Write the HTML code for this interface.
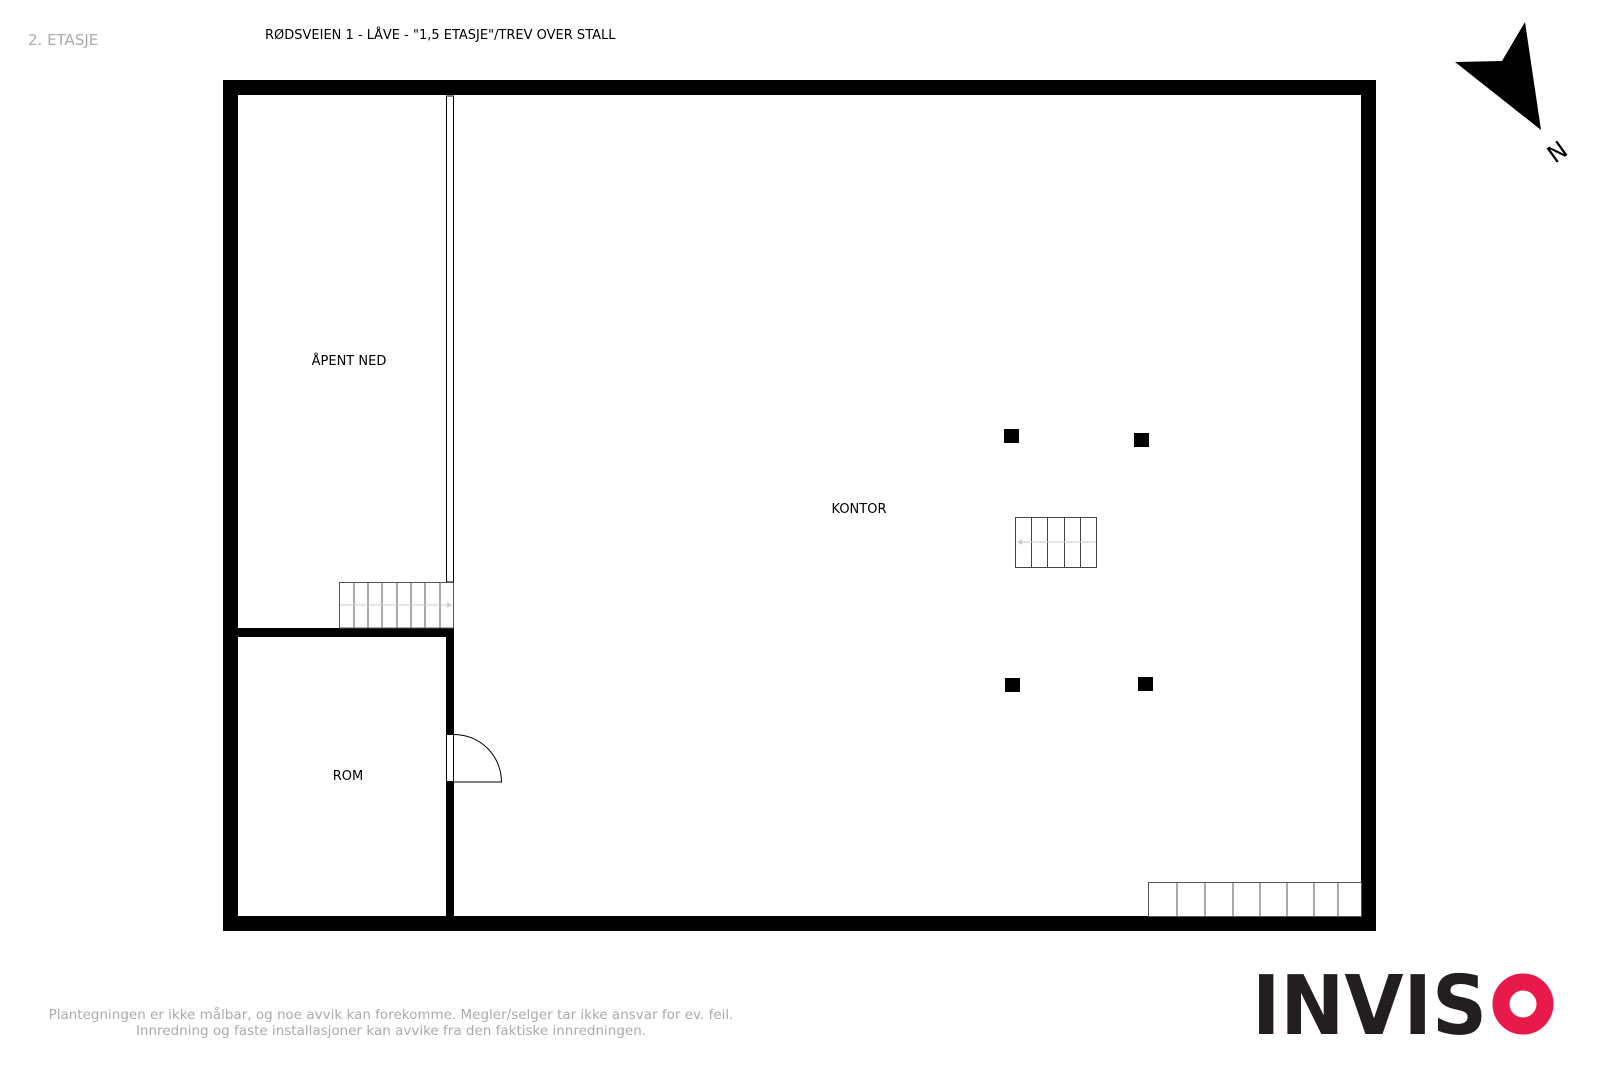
<!DOCTYPE html>
<html><head><meta charset="utf-8"><style>
html,body{margin:0;padding:0;background:#fff}
svg{display:block}
text{font-family:"DejaVu Sans","Liberation Sans",sans-serif}
</style></head><body>
<svg width="1600" height="1067" viewBox="0 0 1600 1067" xmlns="http://www.w3.org/2000/svg">
<rect width="1600" height="1067" fill="#fff"/>
<text x="28" y="45" font-size="15" fill="#aaa">2. ETASJE</text>
<text x="265" y="39" font-size="13" fill="#000">RØDSVEIEN 1 - LÅVE - "1,5 ETASJE"/TREV OVER STALL</text>
<rect x="230.5" y="87.5" width="1138" height="836" fill="none" stroke="#000" stroke-width="15"/>
<rect x="238" y="628" width="216" height="9" fill="#000"/>
<rect x="446" y="628" width="8" height="296" fill="#000"/>
<rect x="446.5" y="96" width="7" height="486" fill="#fff" stroke="#000" stroke-width="1"/>
<rect x="446" y="734" width="8" height="48" fill="#fff"/>
<rect x="446.5" y="734.5" width="7" height="47" fill="none" stroke="#000" stroke-width="1"/>
<path d="M454 734.5 A47.5 47.5 0 0 1 501.5 782 L454 782" fill="none" stroke="#000" stroke-width="1"/>
<g stroke="#555" stroke-width="1" fill="none">
<rect x="339.5" y="582.5" width="114" height="45.5"/>
<line x1="354" y1="582" x2="354" y2="628"/><line x1="368" y1="582" x2="368" y2="628"/>
<line x1="382" y1="582" x2="382" y2="628"/><line x1="397" y1="582" x2="397" y2="628"/>
<line x1="411" y1="582" x2="411" y2="628"/><line x1="425" y1="582" x2="425" y2="628"/>
<line x1="440" y1="582" x2="440" y2="628"/>
</g>
<line x1="340" y1="605" x2="452" y2="605" stroke="#ccc" stroke-width="1"/>
<polygon points="447,602 452,605 447,608" fill="#ccc"/>
<g stroke="#444" stroke-width="1" fill="none">
<rect x="1015.5" y="517.5" width="81" height="50"/>
<line x1="1031.5" y1="517" x2="1031.5" y2="568"/><line x1="1047.5" y1="517" x2="1047.5" y2="568"/>
<line x1="1064.5" y1="517" x2="1064.5" y2="568"/><line x1="1080.5" y1="517" x2="1080.5" y2="568"/>
</g>
<line x1="1018" y1="542" x2="1096" y2="542" stroke="#ccc" stroke-width="1"/>
<polygon points="1017,542 1022,539 1022,545" fill="#ccc"/>
<g stroke="#555" stroke-width="1" fill="none">
<rect x="1148.5" y="882.5" width="213" height="34"/>
<line x1="1177" y1="882" x2="1177" y2="917"/><line x1="1205" y1="882" x2="1205" y2="917"/>
<line x1="1233" y1="882" x2="1233" y2="917"/><line x1="1260" y1="882" x2="1260" y2="917"/>
<line x1="1287" y1="882" x2="1287" y2="917"/><line x1="1314" y1="882" x2="1314" y2="917"/>
<line x1="1338" y1="882" x2="1338" y2="917"/>
</g>
<rect x="1004" y="429" width="15" height="14" fill="#000"/>
<rect x="1134" y="433" width="15" height="14" fill="#000"/>
<rect x="1005" y="678" width="15" height="14" fill="#000"/>
<rect x="1138" y="677" width="15" height="14" fill="#000"/>
<text x="349" y="365" font-size="13" text-anchor="middle">ÅPENT NED</text>
<text x="859" y="513" font-size="13" text-anchor="middle">KONTOR</text>
<text x="348" y="780" font-size="13" text-anchor="middle">ROM</text>
<polygon points="1455,62 1502,61 1525,22 1541,130" fill="#000"/>
<text x="1558" y="153" font-size="24" text-anchor="middle" transform="rotate(-36 1558 153)" dominant-baseline="middle">N</text>
<text x="391" y="1019" font-size="13.5" fill="#aaa" text-anchor="middle">Plantegningen er ikke målbar, og noe avvik kan forekomme. Megler/selger tar ikke ansvar for ev. feil.</text>
<text x="391" y="1035" font-size="13.5" fill="#aaa" text-anchor="middle">Innredning og faste installasjoner kan avvike fra den faktiske innredningen.</text>
<text x="1252" y="1034" font-size="82" font-weight="bold" fill="#231f20" textLength="235" lengthAdjust="spacingAndGlyphs" font-family="Liberation Sans, sans-serif">INVIS</text>
<circle cx="1523" cy="1004" r="22" fill="none" stroke="#e8194b" stroke-width="17"/>
</svg>
</body></html>
